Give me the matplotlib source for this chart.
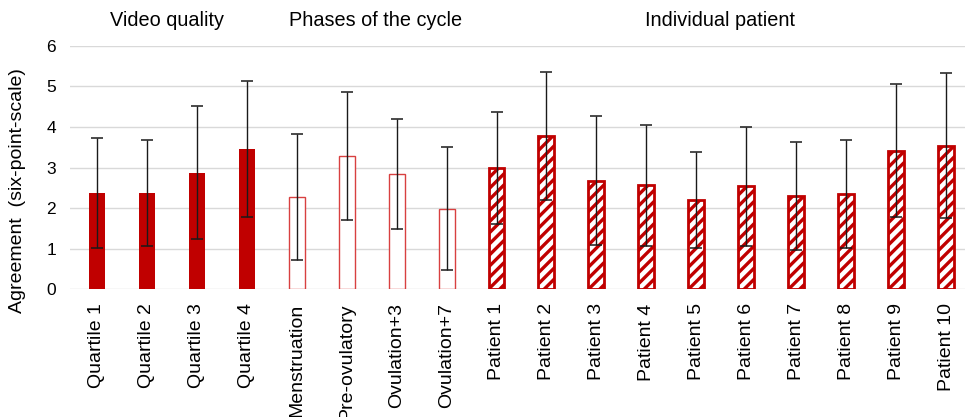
#!/usr/bin/env python3

import numpy as np
import matplotlib.pyplot as plt

plt.rcParams['font.family'] = ['Liberation Sans', 'DejaVu Sans']
plt.rcParams['hatch.linewidth'] = 2.4
plt.rcParams['hatch.color'] = '#c00000'

# values
video_labels = ['Quartile 1', 'Quartile 2', 'Quartile 3', 'Quartile 4']
video_means = [2.38, 2.38, 2.88, 3.46]
video_sd = [1.36, 1.30, 1.65, 1.68]

phase_labels = ['Menstruation', 'Pre-ovulatory', 'Ovulation+3', 'Ovulation+7']
phase_means = [2.28, 3.28, 2.85, 1.99]
phase_sd = [1.55, 1.58, 1.36, 1.52]

patient_labels = ['Patient 1', 'Patient 2', 'Patient 3', 'Patient 4', 'Patient 5',
                  'Patient 6', 'Patient 7', 'Patient 8', 'Patient 9', 'Patient 10']
patient_means = [2.99, 3.78, 2.68, 2.56, 2.20, 2.54, 2.30, 2.34, 3.42, 3.54]
patient_sd = [1.38, 1.58, 1.58, 1.49, 1.19, 1.46, 1.33, 1.33, 1.64, 1.78]

group_titles = ['Video quality', 'Phases of the cycle', 'Individual patient']

red = '#c00000'

fig = plt.figure(figsize=(9.65, 4.17), dpi=100)
ax = fig.add_axes([0.0725, 0.306, 0.9275, 0.584])

x_video = np.arange(len(video_labels))
x_phase = np.arange(len(phase_labels)) + len(video_labels)
x_patient = np.arange(len(patient_labels)) + len(video_labels) + len(phase_labels)

w = 0.32
err_kw = dict(ecolor='#1a1a1a', elinewidth=1.0, capsize=4, capthick=1.1)

ax.bar(x_video, video_means, w, color=red, yerr=video_sd, error_kw=err_kw, zorder=2)
ax.bar(x_phase, phase_means, w, facecolor='white', edgecolor='#d84040', linewidth=1.0,
       yerr=phase_sd, error_kw=err_kw, zorder=2)
ax.bar(x_patient, patient_means, w, facecolor='white', edgecolor=red, linewidth=2.0,
       hatch='///', yerr=patient_sd, error_kw=err_kw, zorder=2)

ax.set_ylim(0, 6)
ax.set_xlim(-0.54, 17.38)
ax.set_yticks(range(0, 7))
ax.yaxis.grid(True, color='#d9d9d9', linewidth=1.0, zorder=0)
ax.set_axisbelow(True)
for s in ax.spines.values():
    s.set_visible(False)
ax.tick_params(axis='both', length=0)
ax.tick_params(axis='y', labelsize=12.5, pad=10)

all_labels = video_labels + phase_labels + patient_labels
ax.set_xticks(np.concatenate([x_video, x_phase, x_patient]))
ax.set_xticklabels(all_labels, rotation=90, fontsize=14)
ax.tick_params(axis='x', pad=10)

fig.text(18 / 965, 0.544, 'Agreement  (six-point-scale)', rotation=90,
         ha='center', va='center', fontsize=14)

# group titles above the bars
title_x = [1.40, 5.57, 12.48]
for tx, t in zip(title_x, group_titles):
    ax.text(tx, 6.62, t, ha='center', va='center', fontsize=14.3)

plt.savefig('out.png', dpi=100)
